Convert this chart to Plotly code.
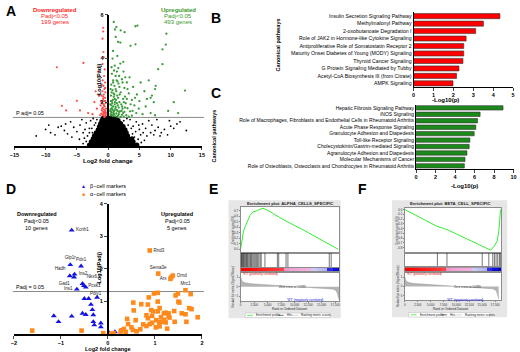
import plotly.graph_objects as go

W, H = 520, 352
FONT = "Liberation Sans, Arial, sans-serif"

# ---------------- Panel A : volcano ----------------
volcano_black_core = [
    (-3, 0.04), (-2.5, 0.04), (-2, 0.04), (-1.5, 0.04), (-1, 0.04), (-0.5, 0.04), (0, 0.04), (0.5, 0.04),
    (1, 0.04), (1.5, 0.04), (2, 0.04), (2.5, 0.04), (3, 0.04), (3.5, 0.04), (4, 0.04), (4.6, 0.04),
    (-2.7, 0.18), (-2.2, 0.18), (-1.7, 0.18), (-1.2, 0.18), (-0.7, 0.18), (-0.2, 0.18), (0.3, 0.18),
    (0.8, 0.18), (1.3, 0.18), (1.8, 0.18), (2.3, 0.18), (2.8, 0.18), (3.4, 0.18), (4.0, 0.18),
    (-2.4, 0.32), (-1.9, 0.32), (-1.4, 0.32), (-0.9, 0.32), (-0.4, 0.32), (0.1, 0.32), (0.6, 0.32),
    (1.1, 0.32), (1.6, 0.32), (2.1, 0.32), (2.6, 0.32), (3.2, 0.32), (3.8, 0.32),
    (-2.2, 0.46), (-1.6, 0.46), (-1.1, 0.46), (-0.6, 0.46), (-0.1, 0.46), (0.4, 0.46), (0.9, 0.46),
    (1.4, 0.46), (1.9, 0.46), (2.5, 0.46), (3.1, 0.46),
    (-1.9, 0.6), (-1.3, 0.6), (-0.8, 0.6), (-0.3, 0.6), (0.2, 0.6), (0.7, 0.6), (1.2, 0.6), (1.7, 0.6),
    (2.3, 0.6), (2.9, 0.6),
    (-1.6, 0.74), (-1.1, 0.74), (-0.6, 0.74), (-0.1, 0.74), (0.4, 0.74), (0.9, 0.74), (1.5, 0.74),
    (2.1, 0.74), (2.7, 0.74),
    (-1.4, 0.88), (-0.9, 0.88), (-0.4, 0.88), (0.1, 0.88), (0.6, 0.88), (1.1, 0.88), (1.7, 0.88), (2.4, 0.88),
    (-1.2, 1.02), (-0.7, 1.02), (-0.2, 1.02), (0.3, 1.02), (0.8, 1.02), (1.4, 1.02), (2.0, 1.02),
    (-1.0, 1.16), (-0.5, 1.16), (0.0, 1.16), (0.5, 1.16), (1.0, 1.16), (1.6, 1.16),
    (-0.8, 1.26), (-0.3, 1.26), (0.2, 1.26), (0.7, 1.26), (1.2, 1.26),
    (-1.75, 0.1), (-0.75, 0.1), (0.25, 0.1), (1.25, 0.1), (2.25, 0.1), (3.25, 0.1),
    (-1.45, 0.25), (-0.45, 0.25), (0.55, 0.25), (1.55, 0.25), (2.55, 0.25),
    (-1.15, 0.4), (-0.15, 0.4), (0.85, 0.4), (1.85, 0.4), (-0.55, 0.53), (0.45, 0.53), (1.45, 0.53),
]
volcano_black_sparse = [
    (-10.0, 0.75), (-9.2, 0.6), (-8.5, 0.5), (-7.5, 0.9), (-7.0, 0.7), (-6.5, 0.55), (-6.0, 1.1),
    (-5.5, 0.85), (-5.0, 0.65), (-4.5, 0.95), (-4.0, 0.6), (-3.5, 1.05), (-3.0, 0.8), (-2.5, 0.6),
    (-6.8, 1.0), (-8.0, 0.85), (-11.5, 0.45), (-9.5, 0.95), (-4.2, 1.2), (-5.8, 0.4), (-3.8, 0.35),
    (-2.8, 1.15), (-2.2, 0.95),
    (3.5, 1.2), (4.0, 0.9), (4.5, 1.1), (5.0, 0.75), (5.5, 1.0), (6.0, 0.8), (6.5, 1.15), (7.0, 0.95),
    (7.5, 0.7), (8.0, 0.85), (8.5, 0.6), (9.0, 0.75), (9.5, 0.5), (10.0, 0.9), (10.5, 0.8), (11.0, 1.0),
    (11.5, 1.1), (6.8, 0.6), (7.3, 0.5), (8.3, 0.45), (5.2, 0.5), (6.2, 0.45), (4.2, 0.4), (3.2, 0.95),
    (9.8, 1.15), (7.8, 1.2), (12.5, 0.7),
    (-3.5, 0.2), (-4.0, 0.1), (-3.3, 0.45), (4.8, 0.3), (5.3, 0.15), (4.4, 0.65), (3.7, 0.8),
    (-2.6, 0.8), (-3.0, 0.6), (5.8, 0.25), (-1.8, 1.2), (2.5, 1.15), (3.0, 1.25), (-2.0, 1.05),
    (-4.6, 0.3), (-3.7, 0.75), (3.9, 0.55), (4.9, 0.95), (5.6, 0.6), (-2.4, 1.25),
]
volcano_red = [
    (-0.5, 1.35), (-0.7, 1.38), (-0.9, 1.42), (-0.4, 1.45), (-1.1, 1.48), (-0.6, 1.5), (-0.8, 1.55),
    (-0.45, 1.6), (-1.0, 1.62), (-0.65, 1.66), (-0.35, 1.7), (-0.85, 1.75), (-0.55, 1.8), (-1.2, 1.85),
    (-0.75, 1.9), (-0.4, 1.95), (-0.95, 2.0), (-0.6, 2.05), (-0.8, 2.15), (-0.5, 2.2), (-1.05, 2.3),
    (-0.7, 2.35), (-0.45, 2.45), (-0.9, 2.5), (-0.6, 2.6), (-0.75, 2.75), (-0.5, 2.9), (-0.85, 3.0),
    (-0.65, 3.2), (-0.55, 3.5), (-0.9, 3.75), (-0.7, 4.05), (-0.75, 4.3), (-0.89, 4.91), (-0.79, 5.24),
    (-0.79, 5.41), (-0.6, 1.32), (-1.3, 1.4), (-0.35, 1.52), (-1.15, 2.05), (-0.5, 2.65), (-1.0, 2.8),
    (-3.95, 3.8), (-8.2, 3.6), (-5.0, 2.06), (-7.4, 1.83), (-6.7, 1.62), (-4.5, 1.62), (-2.0, 2.5),
    (-1.6, 3.4), (-2.5, 1.45), (-1.8, 1.7), (-3.2, 1.5), (-2.2, 2.0), (-1.5, 2.3),
    (-0.4, 1.38), (-0.75, 1.45), (-0.5, 1.55), (-0.95, 1.7), (-0.65, 1.85), (-0.45, 2.05), (-0.8, 2.25),
]
volcano_green = [
    (0.9, 5.68), (1.31, 5.45), (1.1, 5.33), (2.0, 5.29), (2.63, 5.21), (4.37, 5.48), (4.69, 5.51),
    (9.32, 5.14), (1.21, 4.99), (1.58, 4.76), (1.95, 4.73), (3.58, 4.58), (4.37, 4.65), (9.22, 4.64),
    (8.69, 4.42), (0.79, 4.35), (1.47, 4.12), (2.42, 3.85), (1.95, 3.77), (1.05, 3.67), (8.69, 3.74),
    (8.0, 3.51), (1.63, 3.56), (2.74, 3.14), (3.42, 3.14), (12.3, 2.53),
    (0.6, 3.3), (1.2, 3.2), (0.8, 3.0), (1.5, 2.95), (2.2, 3.05), (3.0, 2.9), (0.5, 2.8), (1.0, 2.75),
    (1.8, 2.7), (2.6, 2.65), (4.0, 2.7), (5.2, 2.9), (6.5, 3.0), (7.5, 2.6), (0.7, 2.55), (1.3, 2.5),
    (2.0, 2.45), (3.3, 2.4), (4.6, 2.35), (5.8, 2.5), (7.0, 2.3), (0.45, 2.3), (0.9, 2.25), (1.6, 2.2),
    (2.4, 2.15), (3.8, 2.1), (5.0, 2.05), (6.2, 2.15), (7.3, 2.0), (0.6, 2.05), (1.1, 2.0), (1.4, 1.95),
    (2.1, 1.9), (2.8, 1.95), (4.2, 1.85), (0.35, 1.9), (0.5, 1.85), (0.8, 1.8), (1.2, 1.78), (1.7, 1.75),
    (2.3, 1.7), (3.1, 1.72), (0.4, 1.68), (0.7, 1.65), (1.0, 1.62), (1.5, 1.6), (1.9, 1.58), (2.6, 1.55),
    (3.5, 1.58), (4.5, 1.5), (0.55, 1.52), (0.85, 1.5), (1.3, 1.48), (1.7, 1.45), (2.2, 1.42), (2.9, 1.4),
    (3.8, 1.38), (5.5, 1.45), (6.8, 1.5), (0.45, 1.4), (0.75, 1.37), (1.1, 1.35), (1.45, 1.33), (2.0, 1.32),
    (2.5, 1.34), (3.3, 1.33), (7.5, 1.4), (0.35, 1.6), (0.6, 1.72), (1.05, 1.9), (1.25, 2.1), (0.95, 1.45),
    (1.6, 1.38), (2.4, 1.5), (1.8, 2.0), (0.65, 1.95), (7.6, 2.75), (6.8, 2.2), (9.6, 1.6), (10.5, 2.0),
    (11.2, 1.5), (0.4, 2.6), (0.55, 3.6), (0.7, 4.0), (1.4, 3.4), (2.3, 2.9), (0.45, 2.05), (0.85, 2.4),
    (1.15, 1.7), (0.5, 1.55), (2.7, 2.25),
    (0.6, 1.42), (0.9, 1.58), (1.35, 1.65), (1.75, 1.55), (2.15, 1.6), (2.7, 1.75), (1.05, 2.15),
    (1.45, 2.3), (1.85, 2.35), (2.5, 2.0), (3.0, 2.15), (3.6, 1.9), (0.75, 2.1), (1.2, 2.6), (1.65, 2.85),
    (0.95, 3.45), (1.75, 3.2), (2.45, 3.4), (3.1, 2.6), (4.3, 2.2), (0.4, 1.45), (0.55, 2.45), (1.0, 2.35),
    (1.55, 1.85), (2.25, 1.8), (3.9, 1.6), (4.9, 1.7), (6.0, 1.8), (0.8, 2.9), (1.35, 3.0),
]
a_xticks = [-15, -10, -5, 0, 5, 10, 15]
a_yticks = [2, 4, 6]
padj_cut = 1.3

# ---------------- Panel B / C : pathways ----------------
b_labels = ["Insulin Secretion Signaling Pathway", "Methylmalonyl Pathway", "2-oxobutanoate Degradation I",
            "Role of JAK2 in Hormone-like Cytokine Signaling", "Antiproliferative Role of Somatostatin Receptor 2",
            "Maturity Onset Diabetes of Young (MODY) Signaling", "Thyroid Cancer Signaling",
            "G Protein Signaling Mediated by Tubby", "Acetyl-CoA Biosynthesis III (from Citrate)", "AMPK Signaling"]
b_values = [4.34, 3.51, 3.12, 2.64, 2.52, 2.52, 2.48, 2.28, 2.16, 1.98]
c_labels = ["Hepatic Fibrosis Signaling Pathway", "iNOS Signaling",
            "Role of Macrophages, Fibroblasts and Endothelial Cells in Rheumatoid Arthritis",
            "Acute Phase Response Signaling", "Granulocyte Adhesion and Diapedesis", "Toll-like Receptor Signaling",
            "Cholecystokinin/Gastrin-mediated Signaling", "Agranulocyte Adhesion and Diapedesis",
            "Molecular Mechanisms of Cancer",
            "Role of Osteoblasts, Osteoclasts and Chondrocytes in Rheumatoid Arthritis"]
c_values = [8.92, 6.57, 6.3, 6.13, 5.96, 5.52, 5.45, 5.22, 5.02, 4.95]

# ---------------- Panel D : markers ----------------
beta_pts = [(-0.77, 3.18), (-0.80, 2.12), (-0.57, 2.08), (-0.71, 1.83), (-0.81, 1.78), (-0.72, 1.74),
            (-0.54, 1.54), (-0.51, 1.48), (-0.47, 1.43), (-0.66, 1.37), (-0.23, 1.12), (-0.50, 1.08),
            (-0.41, 1.08), (-0.36, 0.90), (-0.33, 0.74), (-0.54, 0.63), (-0.47, 0.59), (-0.31, 0.58),
            (-0.31, 0.37), (-0.29, 0.27), (-0.15, 0.33), (-0.15, 0.21), (-1.15, 0.55), (-0.77, 0.54),
            (-1.05, 0.37), (0.15, 0.06), (0.03, 0.03)]
beta_names = ["Kcnh1", "Glp1r", "Pdx1", "Ins2", "Hadh", "Gad1", "Nkx6.1", "Pcsk1", "Pdiy1", "Ins1"]
beta_name_pos = ["middle right", "top center", "top center", "middle right", "top left", "bottom left",
                 "top right", "middle right", "bottom right", "middle left"]
alpha_pts = [(0.89, 2.56), (1.07, 1.85), (1.38, 1.79), (1.35, 1.74), (1.33, 1.69), (1.65, 1.34),
             (1.06, 1.26), (0.98, 1.24), (1.49, 1.24), (1.76, 1.22), (1.44, 1.18), (0.87, 1.12), (0.54, 0.96),
             (0.71, 0.91), (0.85, 0.90), (1.06, 0.99), (1.50, 0.99), (1.52, 0.96), (1.10, 0.79), (0.92, 0.73),
             (0.96, 0.69), (1.06, 0.69), (1.19, 0.63), (1.23, 0.65), (1.29, 0.63), (1.41, 0.70), (1.65, 0.60),
             (1.73, 0.79), (1.78, 0.76), (0.55, 0.72), (0.85, 0.48), (1.13, 0.51), (1.31, 0.50), (1.20, 0.43),
             (1.17, 0.37), (1.09, 0.36), (0.94, 0.34), (0.82, 0.24), (0.89, 0.30), (0.41, 0.46), (0.43, 0.30),
             (0.50, 0.20), (0.29, 0.11), (0.34, 0.15), (0.38, 0.06), (0.53, 0.12), (0.61, 0.08), (0.69, 0.14),
             (0.75, 0.29), (1.02, 0.20), (1.10, 0.23), (1.23, 0.35), (1.42, 0.37), (1.67, 0.37), (1.91, 0.51),
             (1.57, 0.63), (1.26, 0.16), (-0.10, 0.02), (0.07, 0.0), (0.12, 0.02), (0.27, 0.07), (0.82, 0.57),
             (0.94, 0.55), (0.59, 0.42), (1.29, 0.54), (1.03, 0.42), (-1.61, 0.1), (-0.56, 0.1)]
alpha_names = ["Rnd3", "Sema3e", "Ornd", "", "Arx", "Mrc1"]
alpha_name_pos = ["middle right", "top center", "middle right", "middle right", "middle left", "top center"]
d_xticks = [-2, -1, 0, 1, 2]
d_yticks = [1, 2, 3, 4]

# ---------------- Panels E / F : GSEA ----------------
alpha_es_rank = [0, 250, 540, 900, 1330, 1740, 2220, 2700, 3120, 3590, 4130, 4900, 8000, 12500, 15500, 18000]
alpha_es = [0.0, 0.18, 0.33, 0.42, 0.51, 0.61, 0.67, 0.68, 0.70, 0.72, 0.74, 0.71, 0.53, 0.30, 0.14, 0.0]
alpha_hits = [60, 150, 280, 400, 520, 650, 800, 950, 1100, 1250, 1400, 1600, 1800, 1950, 2100, 2300, 2500,
              2700, 2900, 3100, 3350, 3600, 3800, 4500, 6800, 7050, 8400, 8750, 16400, 16750]
beta_es_rank = [0, 6200, 8400, 15070, 16660, 17300, 17930, 18260, 18560]
beta_es = [0.0, -0.35, -0.43, -0.785, -0.855, -0.77, -0.66, -0.42, 0.0]
beta_hits = [6325, 8182, 15010, 16290, 17060, 17380, 17700, 18020, 18340, 18530]
metric_rank = [0, 100, 300, 600, 1000, 2000, 3500, 5000, 7000, 9000, 10289, 12000, 14000, 16000, 17000,
               17500, 17800, 18000, 18200]
metric_val = [1.0, 0.75, 0.55, 0.45, 0.38, 0.3, 0.23, 0.17, 0.1, 0.04, 0.0, -0.05, -0.11, -0.18, -0.25,
              -0.35, -0.55, -0.9, -1.35]
heat_bins = [500, 1500, 2500, 3500, 4500, 5500, 6500, 7500, 8500, 9500, 10500, 11500, 12500, 13500,
             14500, 15500, 16500, 17500, 18500]
heat_level = [1.0, 0.98, 0.95, 0.92, 0.9, 0.87, 0.84, 0.8, 0.5, 0.45, 0.42, 0.4, 0.38, -0.4, -0.45,
              -0.5, -0.85, -0.95, -1.0]
rank_ticks = [0, 2500, 5000, 7500, 10000, 12500, 15000, 17500]
rank_tick_text = ["0", "2,500", "5,000", "7,500", "10,000", "12,500", "15,000", "17,500"]


def unzip(pts):
    return [p[0] for p in pts], [p[1] for p in pts]


def PX(x):
    return x / W


def PY(y):
    return 1 - y / H


def dx(a, b):
    return [a / W, b / W]


def dy(top, bottom):
    return [1 - bottom / H, 1 - top / H]


fig = go.Figure()

# ---- A traces
for pts, col, size in [(volcano_black_core, "#000000", 5.0), (volcano_black_sparse, "#000000", 1.8),
                       (volcano_red, "#ff4a4a", 2.2), (volcano_green, "#3a9c3a", 2.3)]:
    xs, ys = unzip(pts)
    fig.add_trace(go.Scatter(x=xs, y=ys, mode="markers", xaxis="x", yaxis="y", showlegend=False,
                             marker=dict(color=col, size=size, line=dict(width=0)), cliponaxis=False))

# ---- B / C traces
fig.add_trace(go.Bar(x=b_values, y=b_labels, orientation="h", xaxis="x2", yaxis="y2", width=0.68,
                     marker=dict(color="#ff0000", line=dict(color="#333333", width=0.6)), showlegend=False))
fig.add_trace(go.Bar(x=c_values, y=c_labels, orientation="h", xaxis="x3", yaxis="y3", width=0.68,
                     marker=dict(color="#1b8a1b", line=dict(color="#333333", width=0.6)), showlegend=False))

# ---- D traces
bx, by = unzip(beta_pts)
btext = beta_names + [""] * (len(beta_pts) - len(beta_names))
bpos = beta_name_pos + ["middle right"] * (len(beta_pts) - len(beta_names))
fig.add_trace(go.Scatter(x=bx, y=by, mode="markers+text", text=btext, textposition=bpos,
                         textfont=dict(size=4.5, color="#222222", family=FONT),
                         xaxis="x4", yaxis="y4", showlegend=False, cliponaxis=False,
                         marker=dict(symbol="triangle-up", size=5.2, color="#1414e6", line=dict(width=0))))
ax_, ay_ = unzip(alpha_pts)
atext = alpha_names + [""] * (len(alpha_pts) - len(alpha_names))
apos = alpha_name_pos + ["middle right"] * (len(alpha_pts) - len(alpha_names))
fig.add_trace(go.Scatter(x=ax_, y=ay_, mode="markers+text", text=atext, textposition=apos,
                         textfont=dict(size=4.5, color="#222222", family=FONT),
                         xaxis="x4", yaxis="y4", showlegend=False, cliponaxis=False,
                         marker=dict(symbol="square", size=4.6, color="#ff8a1c", line=dict(width=0))))


# ---- E / F traces
def hit_lines(hits):
    xs, ys = [], []
    for h in hits:
        xs += [h, h, None]
        ys += [0, 1, None]
    return xs, ys


gsea = [
    (alpha_es_rank, alpha_es, alpha_hits, 5),
    (beta_es_rank, beta_es, beta_hits, 9),
]
for rk, es, hits, k in gsea:
    fig.add_trace(go.Scatter(x=rk, y=es, mode="lines", line=dict(color="#33ee33", width=1),
                             xaxis=f"x{k}", yaxis=f"y{k}", showlegend=False))
    hx, hy = hit_lines(hits)
    fig.add_trace(go.Scatter(x=hx, y=hy, mode="lines", line=dict(color="#1a1a1a", width=0.6),
                             xaxis=f"x{k+1}", yaxis=f"y{k+1}", showlegend=False))
    fig.add_trace(go.Heatmap(x=heat_bins, y=[0], z=[heat_level], zmin=-1, zmax=1, showscale=False,
                             colorscale=[[0, "#0000c8"], [0.1, "#3838ff"], [0.22, "#a8a8f0"],
                                         [0.32, "#d4d4f6"], [0.66, "#f4bce2"], [0.75, "#f098cc"],
                                         [0.86, "#ff5a5a"], [1, "#ff0000"]],
                             xaxis=f"x{k+2}", yaxis=f"y{k+2}"))
    fig.add_trace(go.Scatter(x=metric_rank, y=metric_val, mode="lines", fill="tozeroy",
                             fillcolor="#b4b4b4", line=dict(color="#999999", width=0.5),
                             xaxis=f"x{k+3}", yaxis=f"y{k+3}", showlegend=False))

# ---------------- Layout ----------------
axis_common = dict(showgrid=False, zeroline=False, linecolor="#000000")
tf_bold = dict(family=FONT, size=5.5, color="#000000", weight="bold")
layout = dict(
    width=W, height=H, margin=dict(l=0, r=0, t=0, b=0), autosize=False,
    paper_bgcolor="white", plot_bgcolor="rgba(0,0,0,0)", font=dict(family=FONT, color="#000"),
    showlegend=False, bargap=0.3,
)
# A
layout["xaxis"] = dict(axis_common, domain=dx(9.5, 200), range=[-15, 15], anchor="y", showline=True,
                       linewidth=1.5, ticks="outside", ticklen=2.5, tickwidth=1, tickvals=a_xticks,
                       tickfont=tf_bold)
layout["yaxis"] = dict(axis_common, domain=dy(12, 144), range=[0, 6], anchor="free", position=PX(105),
                       showline=True, linewidth=1.5, ticks="outside", ticklen=3, tickwidth=1,
                       tickvals=a_yticks, tickfont=tf_bold)
# B
layout["xaxis2"] = dict(axis_common, domain=dx(415, 516), range=[0, 5], anchor="y2", showline=True,
                        linewidth=1, ticks="outside", ticklen=2.5, tickvals=[0, 1, 2, 3, 4, 5],
                        tickfont=tf_bold)
layout["yaxis2"] = dict(axis_common, domain=dy(9.5, 84.8), anchor="x2", type="category",
                        autorange="reversed", showline=True, linewidth=1, ticks="",
                        tickfont=dict(family=FONT, size=5.2, color="#000"))
# C
layout["xaxis3"] = dict(axis_common, domain=dx(417.5, 516.5), range=[0, 10], anchor="y3", showline=True,
                        linewidth=1, ticks="outside", ticklen=2.5, tickvals=[0, 2, 4, 6, 8, 10],
                        tickfont=tf_bold)
layout["yaxis3"] = dict(axis_common, domain=dy(102.5, 167.5), anchor="x3", type="category",
                        autorange="reversed", showline=True, linewidth=1, ticks="",
                        tickfont=dict(family=FONT, size=5.0, color="#000"))
# D
layout["xaxis4"] = dict(axis_common, domain=dx(9, 200), range=[-2, 2], anchor="y4", showline=True,
                        linewidth=1.5, ticks="outside", ticklen=3, tickvals=d_xticks, tickfont=tf_bold)
layout["yaxis4"] = dict(axis_common, domain=dy(202.3, 333.7), range=[0, 4], anchor="free",
                        position=PX(104.3), showline=True, linewidth=1.5, ticks="outside", ticklen=3,
                        tickvals=d_yticks, tickfont=tf_bold)

small = dict(family=FONT, size=3, color="#333")
g_line = dict(showline=True, mirror=True, linecolor="#8c8c8c", linewidth=0.5, showgrid=False, zeroline=False)
panels = [
    (5, dx(239.3, 339.5), 206, 251.7, 267.3, 271.7, 300.5, [0, 18250], [-0.061, 0.759],
     [0, 0.1, 0.2, 0.3, 0.4, 0.5, 0.6, 0.7]),
    (9, dx(406, 504), 206.7, 251.7, 266.7, 271.7, 300.0, [0, 18700], [-0.904, 0.033],
     [0, -0.1, -0.2, -0.3, -0.4, -0.5, -0.6, -0.7, -0.8]),
]
for k, xd, t0, t1, t2, t3, t4, xr, er, et in panels:
    layout[f"xaxis{k}"] = dict(g_line, domain=xd, range=xr, anchor=f"y{k}", showticklabels=False, ticks="")
    layout[f"yaxis{k}"] = dict(g_line, domain=dy(t0, t1), range=er, anchor=f"x{k}", tickvals=et,
                               ticktext=[f"{v:.1f}" for v in et], tickfont=small, ticks="outside",
                               ticklen=1, tickwidth=0.4, tickcolor="#888")
    layout[f"xaxis{k+1}"] = dict(g_line, domain=xd, range=xr, anchor=f"y{k+1}", showticklabels=False, ticks="")
    layout[f"yaxis{k+1}"] = dict(g_line, domain=dy(t1, t2), range=[0, 1], anchor=f"x{k+1}",
                                 showticklabels=False, ticks="")
    layout[f"xaxis{k+2}"] = dict(g_line, domain=xd, range=xr, anchor=f"y{k+2}", showticklabels=False, ticks="")
    layout[f"yaxis{k+2}"] = dict(g_line, domain=dy(t2, t3), range=[-0.5, 0.5], anchor=f"x{k+2}",
                                 showticklabels=False, ticks="")
    layout[f"xaxis{k+3}"] = dict(g_line, domain=xd, range=xr, anchor=f"y{k+3}", tickvals=rank_ticks,
                                 ticktext=rank_tick_text, tickfont=small, ticks="outside", ticklen=1,
                                 tickwidth=0.4, tickcolor="#888")
    layout[f"yaxis{k+3}"] = dict(g_line, domain=dy(t3, t4), range=[-1.5, 1.5], anchor=f"x{k+3}",
                                 tickvals=[-1, 0, 1], tickfont=small, ticks="outside", ticklen=1,
                                 tickwidth=0.4, tickcolor="#888")

# ---- shapes
shapes = []
shapes.append(dict(type="line", xref="paper", yref="y", x0=PX(8), x1=PX(202), y0=padj_cut, y1=padj_cut,
                   line=dict(color="#8a8a8a", width=1), layer="below"))
shapes.append(dict(type="line", xref="paper", yref="y4", x0=PX(8), x1=PX(202), y0=padj_cut, y1=padj_cut,
                   line=dict(color="#8a8a8a", width=1), layer="below"))
for (x0, y0, x1, y1) in [(227, 199, 341, 318), (393, 199, 510, 317)]:
    shapes.append(dict(type="rect", xref="paper", yref="paper", x0=PX(x0), x1=PX(x1), y0=PY(y1), y1=PY(y0),
                       fillcolor="#e6e6e6", line=dict(width=0), layer="below"))
for (x0, y0, x1, y1) in [(239.3, 206, 339.5, 300.5), (406, 206.7, 504, 300)]:
    shapes.append(dict(type="rect", xref="paper", yref="paper", x0=PX(x0), x1=PX(x1), y0=PY(y1), y1=PY(y0),
                       fillcolor="#ffffff", line=dict(width=0), layer="below"))
annotations = []


def ann(x, y, text, size=6, color="#000", bold=False, xanchor="center", angle=0, yanchor="middle"):
    annotations.append(dict(x=PX(x), y=PY(y), xref="paper", yref="paper", text=text, showarrow=False,
                            xanchor=xanchor, yanchor=yanchor, textangle=angle,
                            font=dict(family=FONT, size=size, color=color,
                                      weight="bold" if bold else "normal")))


# legend boxes of GSEA
for (x0, x1, yc, cx) in [(244, 330, 315, 244), (410, 492, 314.5, 410)]:
    shapes.append(dict(type="rect", xref="paper", yref="paper", x0=PX(x0), x1=PX(x1), y0=PY(yc + 2.3),
                       y1=PY(yc - 2.3), fillcolor="#ffffff", line=dict(color="#aaaaaa", width=0.4)))
    for off, col, lab in [(2, "#33ee33", "Enrichment profile"), (33, "#555555", "Hits"),
                          (48, "#cccccc", "Ranking metric scores")]:
        shapes.append(dict(type="line", xref="paper", yref="paper", x0=PX(cx + off), x1=PX(cx + off + 6),
                           y0=PY(yc), y1=PY(yc), line=dict(color=col, width=0.8)))
        ann(cx + off + 7, yc, lab, size=3, color="#222", xanchor="left")

# panel letters
for (x, y, t) in [(6, 8, "A"), (214, 15, "B"), (214, 91, "C"), (6, 188, "D"), (212, 188, "E"), (363, 188, "F")]:
    ann(x, y, t, size=14, bold=True)

# A texts
ann(51, 6.7, "Downregulated", 6, "#ff1a1a", True)
ann(51, 13.3, "Padj<0.05", 6, "#ff1a1a")
ann(51, 19.5, "199 genes", 6, "#ff1a1a")
ann(176, 6.7, "Upregulated", 6, "#3a9a2a", True)
ann(176, 13.3, "Padj<0.05", 6, "#3a9a2a")
ann(176, 19.5, "493 genes", 6, "#3a9a2a")
ann(9, 110.5, "P adj= 0.05", 5.5, xanchor="left")
ann(96, 78, "-Log10(Padj)", 5.5, bold=True, angle=-90)
ann(105, 159, "Log2 fold change", 6, bold=True)
# B / C titles
ann(277, 42, "Canonical pathways", 5.5, bold=True, angle=-90)
ann(447, 98, "-Log10(p)", 6, bold=True)
ann(212, 134, "Canonical pathways", 5.5, bold=True, angle=-90)
ann(466.5, 184.5, "-Log10(p)", 6, bold=True)
# D texts
ann(32, 212.7, "Downregulated", 5.5, bold=True)
ann(32, 220, "Padj<0.05", 5.5)
ann(32, 227, "10 genes", 5.5)
ann(175, 212.7, "Upregulated", 5.5, bold=True)
ann(175, 220, "Padj<0.05", 5.5)
ann(175, 227, "5 genes", 5.5)
ann(9, 286, "Padj = 0.05", 5.5, xanchor="left")
ann(95, 268, "-Log10(Padj)", 5.5, bold=True, angle=-90)
ann(105, 348.5, "Log2 fold change", 5.5, bold=True)
ann(80, 185, "▲", 5, "#1414e6")
ann(84, 185, "β−cell markers", 5.5, xanchor="left")
ann(80, 193, "■", 5, "#ff8a1c")
ann(84, 193, "α−cell markers", 5.5, xanchor="left")
# E / F texts
for (cx, ylab_x, title, pos_x, zc_x, neg_x) in [
        (289, 231.5, "Enrichment plot: ALPHA_CELLS_SPECIFIC", 240, 292, 305),
        (452, 398.5, "Enrichment plot: BETA_CELL_SPECIFIC", 406.5, 470, 467)]:
    ann(cx, 202.5, title, 4.2, "#222", True)
    ann(ylab_x, 229, "Enrichment score (ES)", 2.8, "#333", angle=-90)
    ann(ylab_x, 286, "Ranked list metric (Signal2Noise)", 2.8, "#333", angle=-90)
    ann(pos_x, 273.6, "'KO' (positively correlated)", 3, "#e00000", xanchor="left")
    ann(zc_x, 286.5, "Zero cross at 10289", 3, "#333")
    ann(neg_x, 299.3, "'WT' (negatively correlated)", 3, "#1010e0")
    ann(cx, 308.5, "Rank in Ordered Dataset", 3.2, "#222")

layout["shapes"] = shapes
layout["annotations"] = annotations
fig.update_layout(**layout)

fig.write_html("out.html", config={"displayModeBar": False},
               post_script="document.body.style.margin='0px';")
